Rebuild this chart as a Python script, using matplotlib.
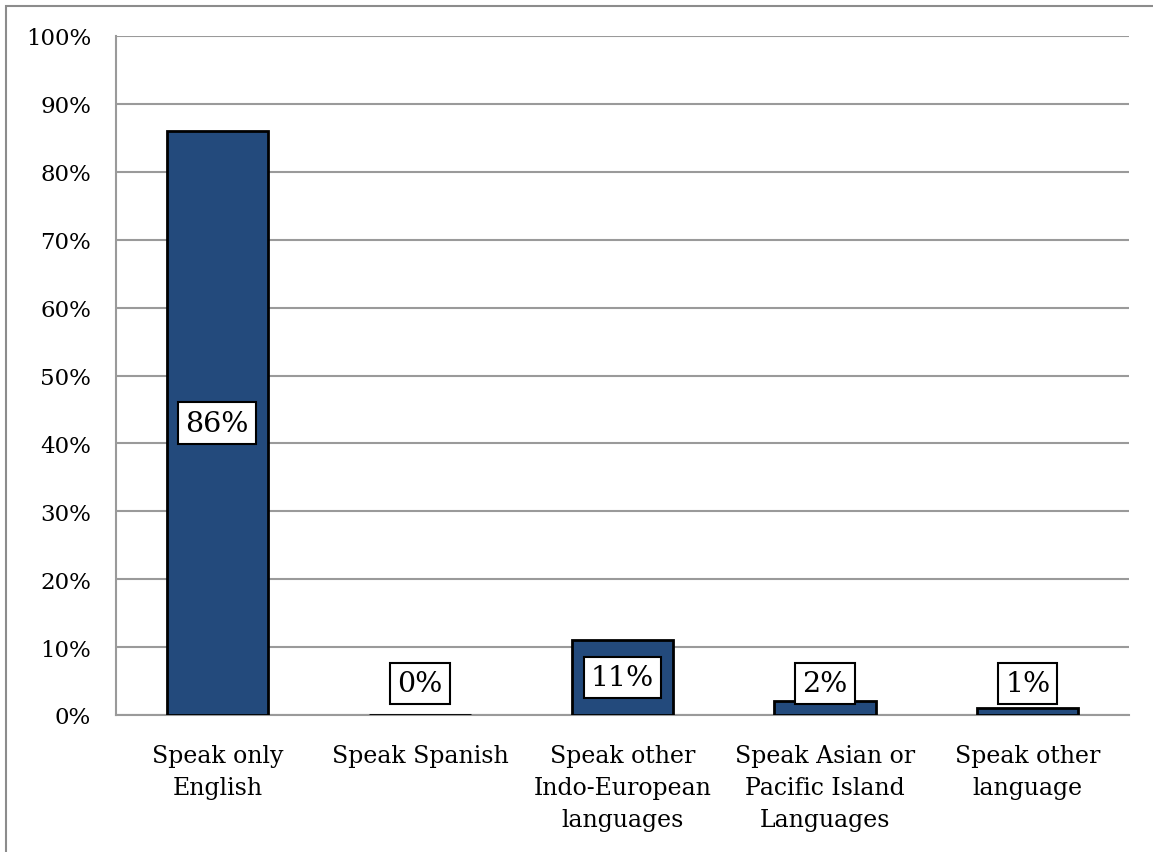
import matplotlib.pyplot as plt
from matplotlib.patches import Rectangle

categories = ['Speak only\nEnglish', 'Speak Spanish', 'Speak other\nIndo-European\nlanguages',
              'Speak Asian or\nPacific Island\nLanguages', 'Speak other\nlanguage']
values = [86, 0, 11, 2, 1]
label_y = [43, 4.6, 5.5, 4.6, 4.6]
labels = ['86%', '0%', '11%', '2%', '1%']

plt.rcParams['font.family'] = ['DejaVu Serif']

W, H = 1153, 853
fig = plt.figure(figsize=(W / 100, H / 100), dpi=100)
ax = fig.add_axes([116 / W, 1 - 716 / H, (1129 - 116) / W, (716 - 37) / H])

x = range(len(values))
ax.bar(x, values, width=0.5, color='#234A7C', edgecolor='black', linewidth=2, zorder=3)

for i, (ly, lab) in enumerate(zip(label_y, labels)):
    ax.text(i, ly, lab, ha='center', va='center', fontsize=20.5, zorder=4,
            bbox=dict(boxstyle='square,pad=0.25', facecolor='white', edgecolor='black', linewidth=1.5))

ax.set_xlim(-0.5, 4.5)
ax.set_ylim(0, 100)
ax.set_yticks(range(0, 101, 10))
ax.set_yticklabels([f'{v}%' for v in range(0, 101, 10)], fontsize=16.5)
ax.set_xticks(list(x))
ax.set_xticklabels(categories, fontsize=17, linespacing=1.5)
ax.tick_params(axis='both', length=0)
ax.tick_params(axis='y', pad=18)
ax.tick_params(axis='x', pad=21)
ax.grid(axis='y', color='#9a9a9a', linewidth=1.5, zorder=0)
for s in ['top', 'right']:
    ax.spines[s].set_visible(False)
for s in ['left', 'bottom']:
    ax.spines[s].set_color('#9a9a9a')
    ax.spines[s].set_linewidth(1.5)

frame = Rectangle((6 / W, -0.1), 1.2, 1 + 0.1 - 7 / H, transform=fig.transFigure,
                  fill=False, edgecolor='#8c8c8c', linewidth=1.5)
fig.patches.append(frame)

fig.savefig('out.png', dpi=100)
